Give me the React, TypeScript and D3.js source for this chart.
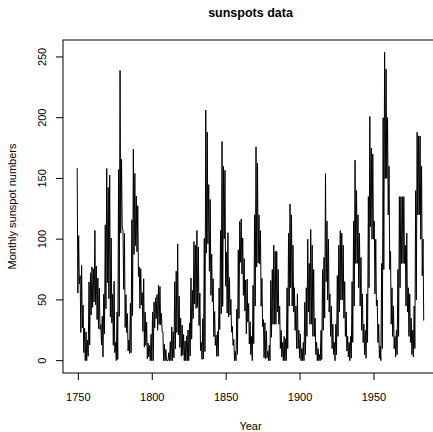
import * as d3 from "d3";

// monthly sunspot numbers, per year: highest and lowest month
const firstYear = 1749;

const yearMax = [
  158.6, 103, 70, 78.4, 45.7, 26.7, 23.7, 17, 64.7, 72.3, // 1749-1758
  77.2, 75.6, 107.2, 77.8, 68.1, 59.7, 29.7, 36.6, 54.7, 111.8, // 1759-1768
  158.2, 142.5, 152.7, 100.9, 54.6, 65.4, 15.1, 40, 157.3, 238.9, // 1769-1778
  165.7, 107.2, 104.7, 54.3, 38.7, 17, 47.2, 116, 174, 154.2, // 1779-1788
  135.5, 127.5, 77.2, 75.7, 56, 67.4, 39.9, 31.7, 14.4, 12.5, // 1789-1798
  21.7, 40.1, 48.2, 51.8, 54.3, 62.3, 61, 39, 23.8, 13.5, // 1799-1808
  9.2, 0, 6.6, 15.6, 27.8, 23.8, 65, 73.7, 96.2, 53.1, // 1809-1818
  35, 29.3, 21.5, 16.1, 20.4, 25.2, 30.9, 68.1, 57.8, 98, // 1819-1828
  95, 107.1, 93.4, 55.5, 14.9, 34.5, 100.8, 206.2, 188, 144.9, // 1829-1838
  132.7, 87.7, 67.4, 40.5, 21.1, 23.9, 59.7, 107.1, 180.4, 159.9, // 1839-1848
  156.7, 89.4, 105.4, 68.4, 50.4, 28.2, 17.4, 7.7, 42.4, 91.2, // 1849-1858
  114.6, 116.7, 101, 84, 66.4, 67.1, 47, 32, 20, 62, // 1859-1868
  120, 176, 162.4, 120.1, 107, 67.8, 33.8, 31.2, 24.4, 7.8, // 1869-1878
  12.9, 66, 75, 95, 90, 90, 75, 45, 25, 15, // 1879-1888
  20, 18, 60, 105, 129, 120, 95, 60, 45, 55, // 1889-1898
  25, 22, 10, 15, 48, 60, 100, 80, 108, 95, // 1899-1908
  75, 35, 15, 10, 5, 25, 75, 85, 154, 115, // 1909-1918
  100, 55, 45, 30, 15, 30, 70, 95, 107, 105, // 1919-1928
  95, 65, 40, 20, 15, 20, 65, 115, 165, 140, // 1929-1938
  120, 105, 85, 55, 30, 25, 55, 135, 201, 175, // 1939-1948
  170, 115, 100, 50, 30, 12, 80, 200, 253.8, 240, // 1949-1958
  200, 160, 90, 60, 45, 20, 25, 75, 135, 135, // 1959-1968
  135, 135, 95, 105, 60, 55, 35, 25, 45, 140, // 1969-1978
  188, 185, 185, 160, 100, // 1979-1983
];

const yearMin = [
  55.7, 63.3, 23.2, 27.1, 6.7, 0, 0, 3.6, 12.8, 37.6, // 1749-1758
  44, 48.3, 46, 33.8, 26.5, 25.7, 13, 3, 21.9, 42.7, // 1759-1768
  64.2, 51, 36, 31.1, 12.7, 6.6, 0, 1, 36.5, 105, // 1769-1778
  110, 58.7, 27.3, 23.2, 8, 6, 6.5, 37.2, 87.4, 94.7, // 1779-1788
  89.7, 69.3, 43, 45.8, 24, 11.1, 12.6, 1.5, 3, 0, // 1789-1798
  0, 0, 27, 34.5, 25, 29.8, 29.4, 24, 0, 0, // 1799-1808
  0, 0, 0, 0, 0, 2.3, 9.8, 23.2, 21.2, 10.9, // 1809-1818
  3.7, 4.5, 0, 0, 0, 0, 3.8, 17.7, 34.6, 46.6, // 1819-1828
  43, 43.9, 28.9, 8.2, 1, 1.4, 7.5, 88.6, 96.3, 73.6, // 1829-1838
  53.8, 48.5, 19.8, 12.6, 3.5, 3.7, 25.7, 38.7, 44.7, 100.3, // 1839-1848
  61.3, 39.1, 36.1, 37.5, 23.4, 12.7, 0, 0, 5.2, 34.9, // 1849-1858
  81, 71.4, 53.7, 40.9, 22, 31.7, 13.7, 5, 0, 14, // 1859-1868
  45, 77, 80.3, 79.5, 44.8, 28, 2.4, 1.6, 2.2, 0, // 1869-1878
  0, 19.3, 30, 30, 30, 40, 30, 10, 3, 0, // 1879-1888
  0, 0, 10, 45, 60, 45, 40, 25, 10, 10, // 1889-1898
  2, 0, 0, 0, 5, 20, 40, 30, 30, 20, // 1899-1908
  20, 5, 0, 0, 0, 1, 25, 35, 65, 50, // 1909-1918
  40, 20, 10, 5, 0, 5, 20, 40, 50, 50, // 1919-1928
  35, 20, 8, 3, 0, 2, 15, 45, 80, 80, // 1929-1938
  60, 45, 25, 15, 5, 2, 15, 60, 110, 100, // 1939-1948
  100, 55, 45, 15, 2, 0, 10, 75, 150, 150, // 1949-1958
  120, 75, 30, 20, 10, 3, 5, 20, 60, 80, // 1959-1968
  80, 80, 45, 40, 20, 15, 5, 3, 10, 50, // 1969-1978
  120, 120, 100, 70, 33, // 1979-1983
];

const xTicks = [1750, 1800, 1850, 1900, 1950];
const yTicks = [0, 50, 100, 150, 200, 250];

const W = 433;
const H = 432;
const left = 63;
const right = 438;
const top = 40;
const bottom = 373;

export default function App() {
  const points: [number, number][] = [];
  yearMax.forEach((hi, i) => {
    const yr = firstYear + i;
    points.push([yr + 0.2, hi]);
    points.push([yr + 0.65, yearMin[i]]);
  });

  const lastX = firstYear + yearMax.length - 1 + 11 / 12;
  const padX = (lastX - firstYear) * 0.04;
  const x = d3
    .scaleLinear()
    .domain([firstYear - padX, lastX + padX])
    .range([left, right]);

  const yMax = d3.max(yearMax) as number;
  const padY = yMax * 0.04;
  const y = d3
    .scaleLinear()
    .domain([-padY, yMax + padY])
    .range([bottom, top]);

  const line = d3
    .line<[number, number]>()
    .x((d) => x(d[0]))
    .y((d) => y(d[1]));

  const font = "'Liberation Sans', Arial, Helvetica, sans-serif";

  return (
    <svg
      width={W}
      height={H}
      style={{ position: "absolute", left: 0, top: 0, background: "#fff" }}
      fontFamily={font}
    >
      <text x={(left + right) / 2} y={17} textAnchor="middle" fontSize={12.5} fontWeight="bold">
        sunspots data
      </text>

      <path d={line(points) ?? ""} fill="none" stroke="#000" strokeWidth={1} />

      <rect
        x={left}
        y={top}
        width={right - left}
        height={bottom - top}
        fill="none"
        stroke="#000"
        strokeWidth={1}
      />

      {xTicks.map((t) => (
        <g key={t}>
          <line x1={x(t)} x2={x(t)} y1={bottom} y2={bottom + 7} stroke="#000" />
          <text x={x(t)} y={401} textAnchor="middle" fontSize={11}>
            {t}
          </text>
        </g>
      ))}

      {yTicks.map((t) => (
        <g key={t}>
          <line x1={left - 7} x2={left} y1={y(t)} y2={y(t)} stroke="#000" />
          <text
            transform={`translate(46,${y(t)}) rotate(-90)`}
            textAnchor="middle"
            fontSize={11}
          >
            {t}
          </text>
        </g>
      ))}

      <text x={(left + right) / 2} y={430} textAnchor="middle" fontSize={11}>
        Year
      </text>
      <text
        transform={`translate(16,${(top + bottom) / 2}) rotate(-90)`}
        textAnchor="middle"
        fontSize={11}
      >
        Monthly sunspot numbers
      </text>
    </svg>
  );
}
